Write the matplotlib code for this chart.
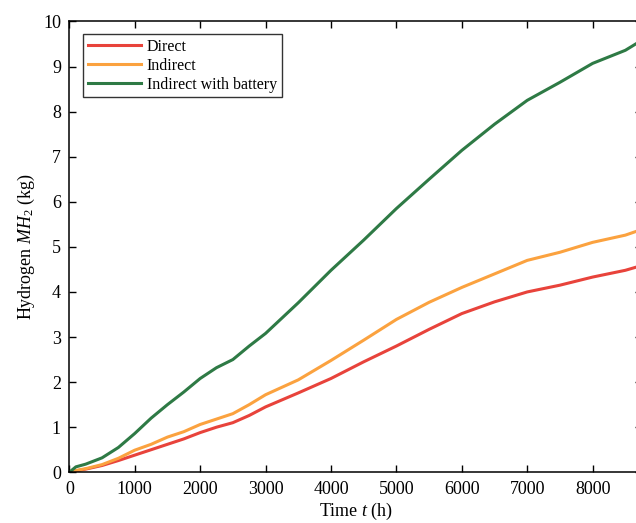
import numpy as np
import matplotlib.pyplot as plt

# hydrogen production over one year
t_h = [0, 100, 250, 500, 750, 1000, 1250, 1500, 1750, 2000, 2250, 2500, 2750,
       3000, 3500, 4000, 4500, 5000, 5500, 6000, 6500, 7000, 7500, 8000,
       8500, 8760]
direct = [0, 0.03, 0.07, 0.15, 0.26, 0.38, 0.50, 0.62, 0.74, 0.88, 1.00, 1.10,
          1.26, 1.45, 1.76, 2.08, 2.45, 2.80, 3.17, 3.52, 3.78, 4.00, 4.15,
          4.33, 4.48, 4.59]
indirect = [0, 0.04, 0.08, 0.17, 0.31, 0.49, 0.62, 0.78, 0.90, 1.06, 1.18, 1.30,
            1.50, 1.72, 2.05, 2.48, 2.93, 3.39, 3.77, 4.10, 4.40, 4.70, 4.88,
            5.10, 5.26, 5.39]
battery = [0, 0.12, 0.18, 0.32, 0.55, 0.86, 1.20, 1.50, 1.78, 2.08, 2.32, 2.50,
           2.80, 3.08, 3.76, 4.48, 5.15, 5.85, 6.50, 7.14, 7.72, 8.25, 8.65,
           9.07, 9.36, 9.59]

plt.rcParams['font.family'] = 'Liberation Serif'
plt.rcParams['mathtext.fontset'] = 'custom'
plt.rcParams['mathtext.rm'] = 'Liberation Serif'
plt.rcParams['mathtext.it'] = 'Liberation Serif:italic'

fig = plt.figure(figsize=(6.36, 5.23), dpi=100)
ax = fig.add_axes([0.109, 0.097, 0.901, 0.862])

ax.plot(t_h, direct, color='#E8433B', linewidth=2.2, label='Direct')
ax.plot(t_h, indirect, color='#FBA23F', linewidth=2.2, label='Indirect')
ax.plot(t_h, battery, color='#2E7A45', linewidth=2.2, label='Indirect with battery')

ax.set_xlim(0, 8760)
ax.set_ylim(0, 10)
ax.set_xticks(np.arange(0, 8001, 1000))
ax.set_yticks(np.arange(0, 11, 1))
ax.tick_params(direction='in', top=True, right=True, length=5, width=1,
               labelsize=13, pad=6)
for s in ax.spines.values():
    s.set_linewidth(1.1)

ax.set_xlabel('Time $t$ (h)', fontsize=13, labelpad=2)
ax.set_ylabel('Hydrogen $MH_2$ (kg)', fontsize=13, labelpad=4)

leg = ax.legend(loc='upper left', bbox_to_anchor=(0.024, 0.972), fontsize=11.5,
                frameon=True, fancybox=False, handlelength=3.3,
                handletextpad=0.4, labelspacing=0.18, borderpad=0.3,
                borderaxespad=0.0)
leg.get_frame().set_edgecolor('black')
leg.get_frame().set_linewidth(1.0)

fig.savefig('out.png', dpi=100)
